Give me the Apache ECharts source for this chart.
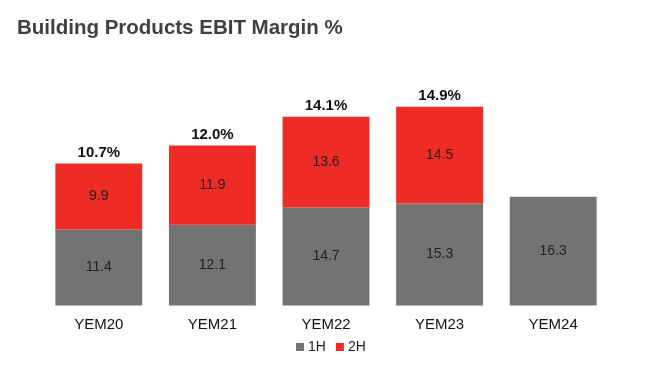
<!DOCTYPE html>
<html>
<head>
<meta charset="utf-8">
<script src="https://cdn.jsdelivr.net/npm/echarts@6/dist/echarts.min.js"></script>
<style>html,body{margin:0;padding:0;background:#fff}#c{width:651px;height:373px}</style>
</head>
<body>
<div id="c"></div>
<script>
const categories = ['YEM20', 'YEM21', 'YEM22', 'YEM23', 'YEM24'];
const firstHalf = [11.4, 12.1, 14.7, 15.3, 16.3];
const secondHalf = [9.9, 11.9, 13.6, 14.5, '-'];
const fullYear = ['10.7%', '12.0%', '14.1%', '14.9%', ''];

const chart = echarts.init(document.getElementById('c'));
const FONT = 'Liberation Sans, Arial, sans-serif';
chart.setOption({
  animation: false,
  title: {
    text: 'Building Products EBIT Margin %',
    left: 12, top: 13,
    textStyle: { fontFamily: FONT, fontSize: 20.5, fontWeight: 'bold', color: '#404040' }
  },
  legend: {
    data: ['1H', '2H'],
    bottom: 14, left: 291,
    icon: 'rect', itemWidth: 8, itemHeight: 8, itemGap: 10,
    textStyle: { fontFamily: FONT, fontSize: 14, color: '#222', padding: [0, 0, 0, -1] }
  },
  grid: { left: 42, right: 41, top: 105.5, bottom: 67.5 },
  xAxis: {
    type: 'category', data: categories,
    axisLine: { show: false }, axisTick: { show: false },
    axisLabel: { fontFamily: FONT, fontSize: 15, color: '#111', margin: 12 }
  },
  yAxis: { type: 'value', min: 0, max: 30, show: false, splitLine: { show: false } },
  series: [
    {
      name: '1H', type: 'bar', stack: 'a', data: firstHalf,
      barCategoryGap: '23.5%',
      itemStyle: { color: '#737373' },
      label: { show: true, position: 'inside', fontFamily: FONT, fontSize: 14, color: '#222' }
    },
    {
      name: '2H', type: 'bar', stack: 'a', data: secondHalf,
      itemStyle: { color: '#EE2B24' },
      label: { show: true, position: 'inside', fontFamily: FONT, fontSize: 14, color: '#222' }
    },
    {
      name: 'FY', type: 'bar', stack: 'a',
      data: fullYear.map(v => v ? 0 : '-'),
      itemStyle: { color: 'transparent' },
      label: {
        show: true, position: 'top', distance: 3,
        formatter: p => fullYear[p.dataIndex],
        fontFamily: FONT, fontSize: 15, fontWeight: 'bold', color: '#111'
      }
    }
  ]
});
</script>
</body>
</html>
